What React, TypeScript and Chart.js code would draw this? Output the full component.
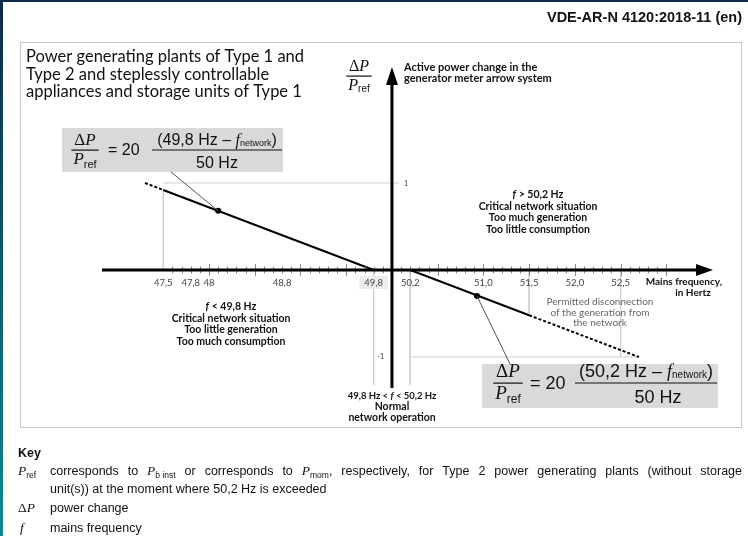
import { useEffect, useRef } from 'react';
import { Chart, registerables } from 'chart.js';

Chart.register(...registerables);

const W = 748;
const H = 536;

// Frequency axis (Hz)
const freqMin = 46.83;
const freqMax = 53.51;
const freqTicks = [47.5, 47.8, 48, 48.8, 49.8, 50.2, 51.0, 51.5, 52.0, 52.5];
const freqTickLabels = ['47,5', '47,8', '48', '48,8', '49,8', '50,2', '51,0', '51,5', '52,0', '52,5'];
const freqAxisCross = 50.0;

// Power change axis (ΔP / Pref)
const dpMin = -1.356;
const dpMax = 2.333;
const dpTicks = [1, -1];
const dpTickLabels = ['1', '-1'];

// Under-frequency characteristic (f < 49,8 Hz)
const underFreqHz = [47.5, 49.8];
const underFreqDp = [0.92, 0];
const underFreqExtHz = [47.3, 47.5];
const underFreqExtDp = [1.0, 0.92];

// Over-frequency characteristic (f > 50,2 Hz)
const overFreqHz = [50.2, 51.5];
const overFreqDp = [0, -0.52];
const overFreqExtHz = [51.5, 52.7];
const overFreqExtDp = [-0.52, -1.0];

// Marked operating points referenced by the formulas
const markerHz = [48.1, 50.93];
const markerDp = [0.68, -0.3];

// Thin guide segments
const guideHz = [
  [47.5, 47.5],
  [47.5, 50.08],
  [49.8, 49.8],
  [50.2, 50.2],
  [51.5, 51.5],
  [52.5, 52.5],
  [50.2, 52.7],
];
const guideDp = [
  [0.92, 0],
  [1, 1],
  [0, -1.32],
  [0, -1.32],
  [0, -0.52],
  [0, -1.0],
  [-1, -1],
];

const SERIF = '"Liberation Serif", "Times New Roman", serif';
const SANS = '"Liberation Sans", Arial, sans-serif';
const LATO = 'Lato, "Open Sans", sans-serif';

const pts = (xs: number[], ys: number[]) => xs.map((x, i) => ({ x, y: ys[i] }));

type Run = { t: string; f: string; dy?: number };

function runsWidth(ctx: CanvasRenderingContext2D, runs: Run[]) {
  let w = 0;
  for (const r of runs) {
    ctx.font = r.f;
    w += ctx.measureText(r.t).width;
  }
  return w;
}

function drawRuns(
  ctx: CanvasRenderingContext2D,
  runs: Run[],
  x: number,
  y: number,
  align: 'left' | 'center' | 'right' = 'left'
) {
  const w = runsWidth(ctx, runs);
  let cx = align === 'center' ? x - w / 2 : align === 'right' ? x - w : x;
  ctx.textAlign = 'left';
  ctx.textBaseline = 'alphabetic';
  for (const r of runs) {
    ctx.font = r.f;
    ctx.fillText(r.t, cx, y + (r.dy || 0));
    cx += ctx.measureText(r.t).width;
  }
  return w;
}

// Justified line: spare width is spread over the word gaps
function drawJustified(ctx: CanvasRenderingContext2D, runs: Run[], x: number, y: number, width: number) {
  const natural = runsWidth(ctx, runs);
  const gaps = runs.reduce((n, r) => n + (r.t.split(' ').length - 1), 0);
  const extra = gaps > 0 ? (width - natural) / gaps : 0;
  let cx = x;
  ctx.textAlign = 'left';
  ctx.textBaseline = 'alphabetic';
  for (const r of runs) {
    ctx.font = r.f;
    const parts = r.t.split(' ');
    parts.forEach((p, i) => {
      if (i > 0) cx += ctx.measureText(' ').width + extra;
      ctx.fillText(p, cx, y + (r.dy || 0));
      cx += ctx.measureText(p).width;
    });
  }
}

// ΔP over Pref stacked fraction
function dpFraction(ctx: CanvasRenderingContext2D, cx: number, barY: number, size: number) {
  const top: Run[] = [
    { t: 'Δ', f: `${size}px ${SERIF}` },
    { t: 'P', f: `italic ${size}px ${SERIF}` },
  ];
  const bottom: Run[] = [
    { t: 'P', f: `italic ${size}px ${SERIF}` },
    { t: 'ref', f: `${Math.round(size * 0.64)}px ${SANS}`, dy: size * 0.18 },
  ];
  const bw = Math.max(runsWidth(ctx, top), runsWidth(ctx, bottom)) + 4;
  drawRuns(ctx, top, cx, barY - size * 0.3, 'center');
  ctx.fillRect(cx - bw / 2, barY - 0.5, bw, 1.2);
  drawRuns(ctx, bottom, cx, barY + size * 0.85, 'center');
}

function formulaBox(
  ctx: CanvasRenderingContext2D,
  box: { x: number; y: number; w: number; h: number },
  fracX: number,
  eqX: number,
  numLeft: number,
  numRight: number,
  denX: number,
  barY: number,
  size: number,
  fRef: string
) {
  ctx.fillStyle = '#d9d9d9';
  ctx.fillRect(box.x, box.y, box.w, box.h);
  ctx.fillStyle = '#111';
  dpFraction(ctx, fracX, barY, size);
  ctx.font = `${size - 1}px ${SANS}`;
  ctx.textAlign = 'left';
  ctx.textBaseline = 'middle';
  ctx.fillText('= 20', eqX, barY + 1);
  const num: Run[] = [
    { t: `(${fRef} Hz – `, f: `${size - 1}px ${SANS}` },
    { t: 'f', f: `italic ${size - 1}px ${SERIF}` },
    { t: 'network', f: `${Math.round(size * 0.55)}px ${SANS}`, dy: 1 },
    { t: ')', f: `${size - 1}px ${SANS}` },
  ];
  const nc = (numLeft + numRight) / 2;
  drawRuns(ctx, num, nc, barY - size * 0.3, 'center');
  ctx.fillRect(numLeft, barY - 0.5, numRight - numLeft, 1);
  ctx.font = `${size - 1}px ${SANS}`;
  ctx.textAlign = 'center';
  ctx.textBaseline = 'alphabetic';
  ctx.fillText('50 Hz', denX, barY + size * 1.05);
}

function centeredLines(
  ctx: CanvasRenderingContext2D,
  lines: Run[][],
  cx: number,
  y0: number,
  step: number
) {
  lines.forEach((runs, i) => drawRuns(ctx, runs, cx, y0 + i * step, 'center'));
}

const decor = {
  id: 'decor',
  beforeDraw(chart: Chart) {
    const ctx = chart.ctx;
    ctx.save();
    ctx.fillStyle = '#ffffff';
    ctx.fillRect(0, 0, W, H);
    ctx.restore();
  },
  afterDatasetsDraw(chart: Chart) {
    const ctx = chart.ctx;
    const xs = chart.scales.x;
    const ys = chart.scales.y;
    const area = chart.chartArea;
    const y0 = ys.getPixelForValue(0);
    const x0 = xs.getPixelForValue(freqAxisCross);
    ctx.save();

    // minor / major frequency ticks
    ctx.strokeStyle = '#8a8a8a';
    ctx.lineWidth = 1;
    for (let k = 476; k <= 530; k++) {
      if (k === 500) continue;
      const px = Math.round(xs.getPixelForValue(k / 10)) + 0.5;
      const len = k % 5 === 0 ? 6 : 3.5;
      ctx.beginPath();
      ctx.moveTo(px, y0 - len);
      ctx.lineTo(px, y0 + len);
      ctx.stroke();
    }

    // frequency axis with arrow
    ctx.strokeStyle = '#000';
    ctx.fillStyle = '#000';
    ctx.lineWidth = 3;
    ctx.beginPath();
    ctx.moveTo(area.left, y0);
    ctx.lineTo(area.right - 14, y0);
    ctx.stroke();
    ctx.beginPath();
    ctx.moveTo(area.right, y0);
    ctx.lineTo(area.right - 17, y0 - 6);
    ctx.lineTo(area.right - 17, y0 + 6);
    ctx.closePath();
    ctx.fill();

    // power axis with arrow
    ctx.beginPath();
    ctx.moveTo(x0, area.bottom);
    ctx.lineTo(x0, area.top + 14);
    ctx.stroke();
    ctx.beginPath();
    ctx.moveTo(x0, area.top);
    ctx.lineTo(x0 - 6, area.top + 18);
    ctx.lineTo(x0 + 6, area.top + 18);
    ctx.closePath();
    ctx.fill();

    ctx.restore();
  },
  afterDraw(chart: Chart) {
    const ctx = chart.ctx;
    const xs = chart.scales.x;
    const ys = chart.scales.y;
    const y0 = ys.getPixelForValue(0);
    const x0 = xs.getPixelForValue(freqAxisCross);
    ctx.save();

    // page edge
    const grad = ctx.createLinearGradient(0, 0, 0, H);
    grad.addColorStop(0, '#0c2a4c');
    grad.addColorStop(1, '#12888e');
    ctx.fillStyle = grad;
    ctx.fillRect(0, 0, 3, H);
    ctx.fillStyle = '#0c2a4c';
    ctx.fillRect(0, 0, W, 2);

    // header
    ctx.fillStyle = '#111';
    ctx.font = `bold 14.5px ${SANS}`;
    ctx.textAlign = 'right';
    ctx.textBaseline = 'middle';
    ctx.fillText('VDE-AR-N 4120:2018-11 (en)', 742, 18);

    // figure frame
    ctx.strokeStyle = '#c8c8c8';
    ctx.lineWidth = 1;
    ctx.strokeRect(20.5, 42.5, 721, 385);

    // figure title
    ctx.fillStyle = '#111';
    ctx.font = `16.5px ${LATO}`;
    ctx.textAlign = 'left';
    ctx.textBaseline = 'middle';
    ['Power generating plants of Type 1 and', 'Type 2 and steplessly controllable', 'appliances and storage units of Type 1'].forEach(
      (t, i) => ctx.fillText(t, 26, 57 + i * 17.5)
    );

    // frequency tick labels
    ctx.font = `9.5px ${LATO}`;
    ctx.textAlign = 'center';
    ctx.textBaseline = 'middle';
    freqTicks.forEach((v, i) => {
      const px = xs.getPixelForValue(v);
      const label = freqTickLabels[i];
      if (label === '49,8') {
        const w = ctx.measureText(label).width + 10;
        ctx.fillStyle = '#ececec';
        ctx.fillRect(px - w / 2, y0 + 6, w, 13);
      }
      ctx.fillStyle = '#444';
      ctx.fillText(label, px, y0 + 12.5);
    });

    // power tick labels
    ctx.font = `7px ${LATO}`;
    ctx.fillStyle = '#333';
    dpTicks.forEach((v, i) => {
      const py = ys.getPixelForValue(v);
      if (v > 0) {
        ctx.textAlign = 'left';
        ctx.fillText(dpTickLabels[i], x0 + 12, py + 1);
      } else {
        ctx.textAlign = 'right';
        ctx.fillText(dpTickLabels[i], x0 - 8, py);
      }
    });

    // axis titles
    ctx.fillStyle = '#111';
    dpFraction(ctx, 359, 76, 16);
    ctx.font = `bold 11px ${LATO}`;
    ctx.textAlign = 'left';
    ctx.fillText('Active power change in the', 404, 71);
    ctx.fillText('generator meter arrow system', 404, 82);
    ctx.font = `bold 10px ${LATO}`;
    ctx.textAlign = 'right';
    ctx.fillText('Mains frequency,', 722, 285);
    ctx.textAlign = 'center';
    ctx.fillText('in Hertz', 693, 296);

    // region descriptions
    const b = `bold 10.5px ${LATO}`;
    const bi = `italic bold 10.5px ${LATO}`;
    ctx.fillStyle = '#111';
    centeredLines(
      ctx,
      [
        [{ t: 'f', f: bi }, { t: ' > 50,2 Hz', f: b }],
        [{ t: 'Critical network situation', f: b }],
        [{ t: 'Too much generation', f: b }],
        [{ t: 'Too little consumption', f: b }],
      ],
      538,
      198,
      11.6
    );
    centeredLines(
      ctx,
      [
        [{ t: 'f', f: bi }, { t: ' < 49,8 Hz', f: b }],
        [{ t: 'Critical network situation', f: b }],
        [{ t: 'Too little generation', f: b }],
        [{ t: 'Too much consumption', f: b }],
      ],
      231,
      310,
      11.6
    );
    centeredLines(
      ctx,
      [
        [{ t: '49,8 Hz < ', f: `bold 9.5px ${LATO}` }, { t: 'f', f: `italic bold 9.5px ${LATO}` }, { t: ' < 50,2 Hz', f: `bold 9.5px ${LATO}` }],
        [{ t: 'Normal', f: b }],
        [{ t: 'network operation', f: b }],
      ],
      392,
      399,
      11
    );
    ctx.fillStyle = '#666';
    centeredLines(
      ctx,
      [
        [{ t: 'Permitted disconnection', f: `10px ${LATO}` }],
        [{ t: 'of the generation from', f: `10px ${LATO}` }],
        [{ t: 'the network', f: `10px ${LATO}` }],
      ],
      600,
      305,
      10.6
    );

    // formula boxes
    formulaBox(ctx, { x: 62, y: 128, w: 221, h: 44 }, 85, 108, 152, 282, 217, 150, 17, '49,8');
    formulaBox(ctx, { x: 482, y: 364, w: 236, h: 44 }, 508, 530, 575, 717, 658, 383, 19, '50,2');

    // leader lines from the marked points to the formulas
    ctx.strokeStyle = '#555';
    ctx.lineWidth = 1;
    const m0x = xs.getPixelForValue(markerHz[0]);
    const m0y = ys.getPixelForValue(markerDp[0]);
    const m1x = xs.getPixelForValue(markerHz[1]);
    const m1y = ys.getPixelForValue(markerDp[1]);
    ctx.beginPath();
    ctx.moveTo(m0x, m0y);
    ctx.lineTo(171, 172);
    ctx.moveTo(m1x, m1y);
    ctx.lineTo(510, 364);
    ctx.stroke();

    // key
    ctx.fillStyle = '#111';
    ctx.font = `bold 12.5px ${SANS}`;
    ctx.textAlign = 'left';
    ctx.textBaseline = 'alphabetic';
    ctx.fillText('Key', 18, 457);
    const kf = `12.5px ${SANS}`;
    const kp = `italic 13.5px ${SERIF}`;
    const ks = `8.5px ${SANS}`;
    drawRuns(ctx, [{ t: 'P', f: kp }, { t: 'ref', f: ks, dy: 3 }], 18, 475);
    drawJustified(
      ctx,
      [
        { t: 'corresponds to ', f: kf },
        { t: 'P', f: kp },
        { t: 'b\u00a0inst', f: ks, dy: 3 },
        { t: ' or corresponds to ', f: kf },
        { t: 'P', f: kp },
        { t: 'mom', f: ks, dy: 3 },
        { t: ', respectively, for Type 2 power generating plants (without storage', f: kf },
      ],
      50,
      475,
      692
    );
    drawRuns(ctx, [{ t: 'unit(s)) at the moment where 50,2 Hz is exceeded', f: kf }], 50, 493);
    drawRuns(ctx, [{ t: 'Δ', f: `13.5px ${SERIF}` }, { t: 'P', f: kp }], 18, 512);
    drawRuns(ctx, [{ t: 'power change', f: kf }], 50, 512);
    drawRuns(ctx, [{ t: 'f', f: kp }], 20, 532);
    drawRuns(ctx, [{ t: 'mains frequency', f: kf }], 50, 532);

    ctx.restore();
  },
};

export default function App() {
  const ref = useRef<HTMLCanvasElement>(null);

  useEffect(() => {
    const canvas = ref.current;
    if (!canvas) return;
    const line = (xs: number[], ys: number[], dashed: boolean) => ({
      data: pts(xs, ys),
      showLine: true,
      borderColor: '#000',
      borderWidth: 2,
      borderDash: dashed ? [3, 2] : [],
      pointRadius: 0,
      tension: 0,
      order: 2,
    });
    const guides = guideHz.map((hz, i) => ({
      data: pts(hz, guideDp[i]),
      showLine: true,
      borderColor: '#cfcfcf',
      borderWidth: 1,
      pointRadius: 0,
      tension: 0,
      order: 5,
    }));
    const chart = new Chart(canvas, {
      type: 'scatter',
      data: {
        datasets: [
          ...guides,
          line(underFreqHz, underFreqDp, false),
          line(underFreqExtHz, underFreqExtDp, true),
          line(overFreqHz, overFreqDp, false),
          line(overFreqExtHz, overFreqExtDp, true),
          {
            data: pts(markerHz, markerDp),
            showLine: false,
            pointRadius: 3,
            pointBackgroundColor: '#000',
            pointBorderWidth: 0,
            order: 1,
          },
        ] as any,
      },
      options: {
        responsive: false,
        animation: false,
        devicePixelRatio: 1,
        events: [],
        layout: { padding: { left: 102, right: W - 713, top: 67, bottom: H - 388 } },
        scales: {
          x: { type: 'linear', min: freqMin, max: freqMax, display: false },
          y: { type: 'linear', min: dpMin, max: dpMax, display: false },
        },
        plugins: { legend: { display: false }, tooltip: { enabled: false } },
      },
      plugins: [decor as any],
    });
    return () => chart.destroy();
  }, []);

  return (
    <canvas
      ref={ref}
      width={W}
      height={H}
      style={{ position: 'fixed', left: 0, top: 0, width: W, height: H }}
    />
  );
}
